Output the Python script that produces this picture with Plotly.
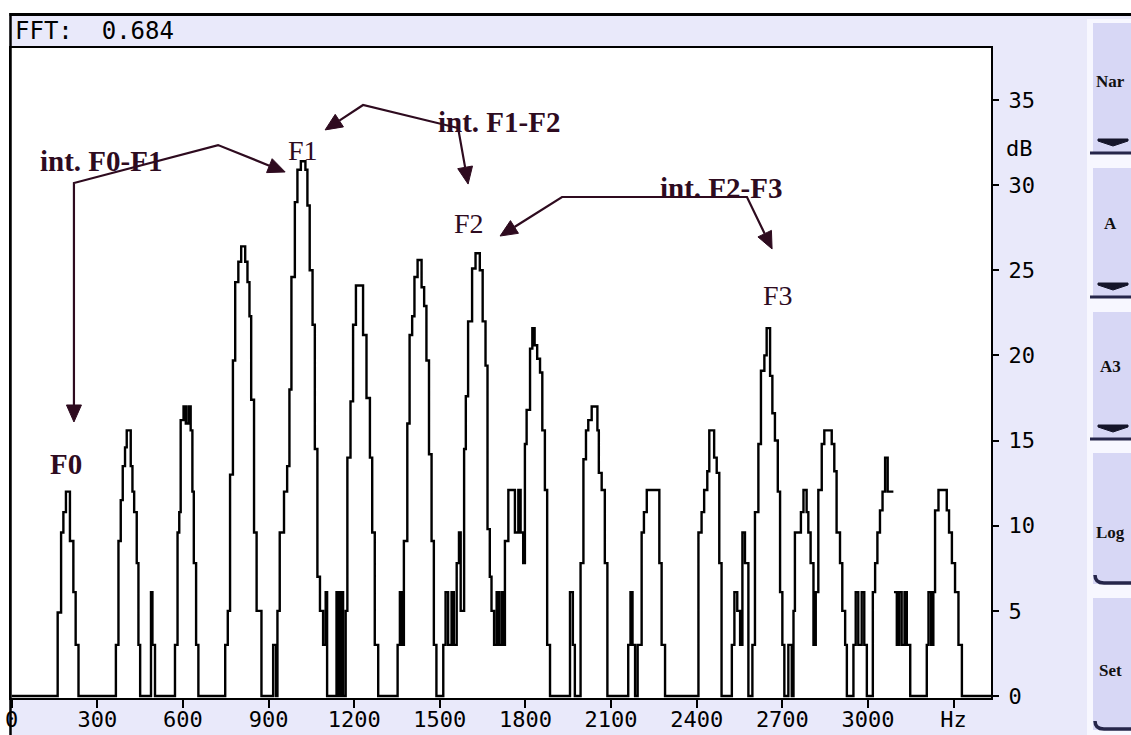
import math
import plotly.graph_objects as go

# ---------------- data ----------------
freq_hz = [0,
    161, 173, 181, 190, 204, 216, 224, 234,
    365, 374, 382, 389, 397, 403, 417, 423, 429, 438, 444, 450,
    488, 493, 502,
    572, 581, 587, 592, 602, 610, 619, 627, 633, 638, 646, 654,
    748, 757, 765, 775, 783, 794, 804, 818, 826, 833, 839, 849, 858, 875,
    916, 926,
    931, 939, 954, 965, 973, 980, 992, 1001, 1013, 1029, 1036, 1044, 1054, 1062, 1071, 1080,
    1091, 1100, 1105, 1138, 1146, 1153, 1161,
    1170, 1176, 1187, 1196, 1206, 1231, 1243, 1255, 1263, 1272, 1284,
    1352, 1360, 1366,
    1374, 1386, 1394, 1403, 1411, 1422, 1436, 1445, 1453, 1462, 1471, 1479, 1488,
    1512, 1520, 1529, 1541, 1549, 1559, 1567, 1573,
    1585, 1591, 1599, 1613, 1625, 1640, 1650, 1660, 1667, 1675, 1681, 1690, 1699, 1707, 1716, 1722,
    1728, 1740, 1763, 1775, 1783, 1792, 1798, 1804, 1816, 1824, 1832, 1841, 1851, 1859, 1868, 1876, 1886,
    1956, 1966, 1973,
    1993, 2003, 2012, 2020, 2032, 2052, 2057, 2067, 2078, 2087,
    2160, 2168, 2175, 2184,
    2193, 2207, 2215, 2225, 2269, 2277, 2289,
    2406, 2417, 2426, 2437, 2444, 2461, 2470, 2479, 2487,
    2523, 2532, 2542, 2552, 2560, 2569, 2581,
    2595, 2604, 2616, 2625, 2637, 2645, 2657, 2665, 2674, 2684, 2692, 2700, 2707,
    2721, 2733, 2739, 2744, 2765, 2774, 2785, 2791, 2799, 2809, 2817,
    2826, 2838, 2847, 2873, 2882, 2890, 2902, 2910, 2920, 2926,
    2949, 2957, 2966, 2978, 2987, 2996,
    3017, 3025, 3033, 3042, 3051, 3060, 3069, 3089, 3089,
    3091, 3101, 3109, 3118, 3128, 3136, 3148,
    3206, 3212, 3221, 3229, 3235, 3247, 3276, 3284, 3294, 3305, 3317, 3329, 3431]

level_db = [0,
    4.9, 9.6, 10.8, 12.0, 9.1, 6.1, 3.0, 0,
    3.0, 9.1, 11.5, 13.5, 14.6, 15.6, 13.5, 12.0, 10.8, 7.8, 3.0, 0,
    6.1, 3.0, 0,
    3.0, 9.6, 10.8, 16.2, 17.0, 16.0, 17.0, 15.6, 12.0, 7.8, 3.0, 0,
    3.0, 5.0, 13.0, 19.7, 24.3, 25.5, 26.4, 25.5, 24.3, 22.3, 17.4, 9.6, 5.0, 0,
    3.0, 0,
    5.0, 9.6, 12.0, 13.5, 18.0, 24.6, 29.0, 30.9, 31.4, 30.9, 28.8, 25.0, 21.8, 14.5, 7.0, 5.0,
    3.0, 6.1, 0, 6.1, 0, 6.1, 0,
    5.0, 14.0, 17.3, 21.8, 24.1, 21.2, 17.5, 14.0, 9.6, 3.0, 0,
    3.0, 6.1, 3.0,
    9.1, 16.0, 21.2, 22.3, 24.6, 25.6, 24.0, 22.9, 19.7, 14.2, 9.1, 3.0, 0,
    3.0, 6.1, 3.0, 6.1, 3.0, 7.8, 9.6, 5.0,
    14.5, 17.6, 22.0, 25.1, 26.0, 25.0, 22.0, 19.4, 9.8, 7.0, 5.0, 3.0, 6.1, 3.0, 6.1, 3.0,
    9.1, 12.1, 9.6, 12.1, 9.6, 7.8, 14.8, 16.8, 20.4, 21.6, 20.6, 19.8, 19.0, 15.6, 12.1, 3.0, 0,
    6.1, 3.0, 0,
    7.8, 13.9, 15.6, 16.2, 17.0, 15.6, 13.1, 12.1, 7.8, 0,
    3.0, 6.1, 3.0, 0,
    3.0, 9.6, 10.8, 12.1, 7.8, 3.0, 0,
    9.6, 10.8, 12.1, 13.2, 15.6, 14.0, 13.1, 7.8, 0,
    3.0, 6.1, 5.0, 3.0, 9.6, 7.8, 0,
    3.0, 10.8, 14.8, 19.1, 20.0, 21.6, 18.8, 16.6, 15.0, 12.0, 6.1, 3.0, 0,
    3.0, 0, 5.0, 9.6, 10.8, 12.1, 10.8, 9.6, 7.8, 3.0, 6.1,
    12.1, 14.8, 15.6, 14.8, 13.2, 9.6, 7.8, 5.0, 3.0, 0,
    3.0, 6.1, 3.0, 6.1, 3.0, 0,
    6.1, 7.8, 9.6, 10.9, 12.0, 14.0, 12.0, 12.0, None,
    6.1, 3.0, 6.1, 3.0, 6.1, 3.0, 0,
    3.0, 6.1, 3.0, 6.1, 10.9, 12.1, 10.9, 9.6, 7.8, 6.1, 3.0, 0, 0]

x_tick_vals = [0, 300, 600, 900, 1200, 1500, 1800, 2100, 2400, 2700, 3000, 3300]
x_tick_text = ["0", "300", "600", "900", "1200", "1500", "1800", "2100", "2400", "2700", "3000", "Hz"]
y_tick_vals = [0, 5, 10, 15, 20, 25, 30, 35]
y_tick_text = ["0", "5", "10", "15", "20", "25", "30", "35"]
y_unit = "dB"
header_text = "FFT:  0.684"
button_labels = ["Nar", "A", "A3", "Log", "Set"]

# labels: (text, Hz, dB, bold)
label_notes = [
    ("int. F0-F1", 313, 31.4, True),
    ("int. F1-F2", 1707, 33.72, True),
    ("int. F2-F3", 2485, 29.85, True),
    ("F0", 190, 13.6, True),
    ("F1", 1021, 32.05, False),
    ("F2", 1602, 27.75, False),
    ("F3", 2685, 23.5, False),
]
# arrow polylines (Hz, dB); arrowheads at first and last point
arrow_lines = [
    [(218, 16.09), (218, 30.12), (723, 32.35), (958, 30.77)],
    [(1098, 33.24), (1231, 34.70), (1564, 33.35), (1599, 30.06)],
    [(1711, 27.01), (1928, 29.30), (2576, 29.30), (2664, 26.25)],
]

# ---------------- geometry / style ----------------
FIG_W, FIG_H = 1131, 735
ML, MR, MT, MB = 11, 140, 48, 37
PW, PH = FIG_W - ML - MR, FIG_H - MT - MB
X_MIN, X_MAX = -2.5, 3431.0
Y_MIN, Y_MAX = -0.117, 38.05
LAV = "#E9E9FA"
BTN = "#D7D7F5"
INK = "#2E0B1F"
DARK = "#26264A"
MONO = "DejaVu Sans Mono"
SERIF = "Liberation Serif"

SX = PW / (X_MAX - X_MIN)
SY = PH / (Y_MAX - Y_MIN)


def to_px(hz, db):
    return ML + (hz - X_MIN) * SX, MT + (Y_MAX - db) * SY


def to_data(x, y):
    return X_MIN + (x - ML) / SX, Y_MAX - (y - MT) / SY


def pxp(x):
    return (x - ML) / PW


def pyp(y):
    return (FIG_H - MB - y) / PH


fig = go.Figure()
fig.add_trace(go.Scatter(x=freq_hz, y=level_db, mode="lines",
                         line=dict(color="black", width=2.4, shape="hv"),
                         connectgaps=False, hoverinfo="skip", showlegend=False))

shapes = []
annotations = []

# page frame
shapes.append(dict(type="rect", xref="paper", yref="paper", x0=pxp(0), x1=pxp(FIG_W),
                   y0=pyp(0), y1=pyp(13), fillcolor="white", line=dict(width=0), layer="below"))
shapes.append(dict(type="rect", xref="paper", yref="paper", x0=pxp(0), x1=pxp(9.5),
                   y0=pyp(0), y1=pyp(FIG_H), fillcolor="white", line=dict(width=0), layer="below"))
shapes.append(dict(type="line", xref="paper", yref="paper", x0=pxp(9.5), x1=pxp(FIG_W),
                   y0=pyp(14.5), y1=pyp(14.5), line=dict(color="black", width=3)))
shapes.append(dict(type="line", xref="paper", yref="paper", x0=pxp(10.5), x1=pxp(10.5),
                   y0=pyp(13), y1=pyp(FIG_H), line=dict(color="black", width=2.5)))

# button column
shapes.append(dict(type="rect", xref="paper", yref="paper", x0=pxp(1087), x1=pxp(FIG_W + 2),
                   y0=pyp(19), y1=pyp(FIG_H), fillcolor="#F7F7FF", line=dict(width=0), layer="below"))
btn_geo = [(23, 154, 82), (168, 298, 223), (312, 440, 366), (453, 584, 532), (598, 730, 670)]
for i, (lab, (t, b, ty)) in enumerate(zip(button_labels, btn_geo)):
    shapes.append(dict(type="rect", xref="paper", yref="paper", x0=pxp(1093), x1=pxp(FIG_W + 3),
                       y0=pyp(b), y1=pyp(t), fillcolor=BTN, line=dict(width=0), layer="below"))
    if i < 3:
        shapes.append(dict(type="line", xref="paper", yref="paper", x0=pxp(1090), x1=pxp(FIG_W + 2),
                           y0=pyp(b - 1), y1=pyp(b - 1), line=dict(color=DARK, width=3)))
        path = "M {} {} L {} {} L {} {} L {} {} L {} {} Z".format(
            pxp(1098), pyp(b - 15), pxp(1128), pyp(b - 15), pxp(1128), pyp(b - 13),
            pxp(1113), pyp(b - 8), pxp(1098), pyp(b - 13))
        shapes.append(dict(type="path", xref="paper", yref="paper", path=path,
                           fillcolor="#15152A", line=dict(color="#15152A", width=1)))
    else:
        path = "M {} {} Q {} {} {} {} L {} {}".format(
            pxp(1095), pyp(b - 9), pxp(1095), pyp(b - 1), pxp(1104), pyp(b - 1),
            pxp(FIG_W + 2), pyp(b - 1))
        shapes.append(dict(type="path", xref="paper", yref="paper", path=path,
                           line=dict(color=DARK, width=3.5)))
    annotations.append(dict(text="<b>%s</b>" % lab, xref="paper", yref="paper", x=pxp(1110), y=pyp(ty),
                            xanchor="center", yanchor="middle", showarrow=False,
                            font=dict(family=SERIF, size=17, color="#111111")))

# header text and unit
annotations.append(dict(text=header_text, xref="paper", yref="paper", x=pxp(13), y=pyp(31),
                        xanchor="left", yanchor="middle", showarrow=False,
                        font=dict(family=MONO, size=24, color="black")))
annotations.append(dict(text=y_unit, xref="paper", yref="paper", x=pxp(1004), y=pyp(148),
                        xanchor="left", yanchor="middle", showarrow=False,
                        font=dict(family=MONO, size=22, color="black")))

# arrows
def head_path(tail, tip, length=17.0, half=7.5):
    x0, y0 = to_px(*tail)
    x1, y1 = to_px(*tip)
    dx, dy = x1 - x0, y1 - y0
    n = math.hypot(dx, dy)
    ux, uy = dx / n, dy / n
    bx, by = x1 - ux * length, y1 - uy * length
    p1 = to_data(bx - uy * half, by + ux * half)
    p2 = to_data(bx + uy * half, by - ux * half)
    base = to_data(bx, by)
    path = "M {} {} L {} {} L {} {} Z".format(tip[0], tip[1], p1[0], p1[1], p2[0], p2[1])
    return path, base


for pts in arrow_lines:
    p_start, b_start = head_path(pts[1], pts[0])
    p_end, b_end = head_path(pts[-2], pts[-1])
    line_pts = [b_start] + pts[1:-1] + [b_end]
    path = "M " + " L ".join("{} {}".format(a, c) for a, c in line_pts)
    shapes.append(dict(type="path", xref="x", yref="y", path=path, line=dict(color=INK, width=2.2)))
    for p in (p_start, p_end):
        shapes.append(dict(type="path", xref="x", yref="y", path=p, fillcolor=INK,
                           line=dict(color=INK, width=1)))

for text, hz, db, bold in label_notes:
    annotations.append(dict(text=("<b>%s</b>" % text) if bold else text, xref="x", yref="y",
                            x=hz, y=db, xanchor="center", yanchor="middle", showarrow=False,
                            font=dict(family=SERIF, size=29 if bold else 28, color=INK)))

fig.update_layout(
    width=FIG_W, height=FIG_H,
    margin=dict(l=ML, r=MR, t=MT, b=MB, pad=0, autoexpand=False),
    paper_bgcolor=LAV, plot_bgcolor="white",
    showlegend=False,
    shapes=shapes, annotations=annotations,
    xaxis=dict(range=[X_MIN, X_MAX], tickvals=x_tick_vals, ticktext=x_tick_text,
               ticks="outside", ticklen=8, tickwidth=2, tickcolor="black",
               showline=True, linecolor="black", linewidth=2, mirror=True,
               showgrid=False, zeroline=False, fixedrange=True, automargin=False,
               ticklabelstandoff=-7,
               tickfont=dict(family=MONO, size=22, color="black")),
    yaxis=dict(range=[Y_MIN, Y_MAX], side="right", tickvals=y_tick_vals, ticktext=y_tick_text,
               ticks="outside", ticklen=6, tickwidth=2, tickcolor="black",
               showline=True, linecolor="black", linewidth=2, mirror=True,
               showgrid=False, zeroline=False, fixedrange=True, automargin=False,
               ticklabelstandoff=5,
               tickfont=dict(family=MONO, size=22, color="black")),
)

fig.write_html("out.html", config={"displayModeBar": False},
               post_script="document.body.style.margin='0';document.body.style.overflow='hidden';")
